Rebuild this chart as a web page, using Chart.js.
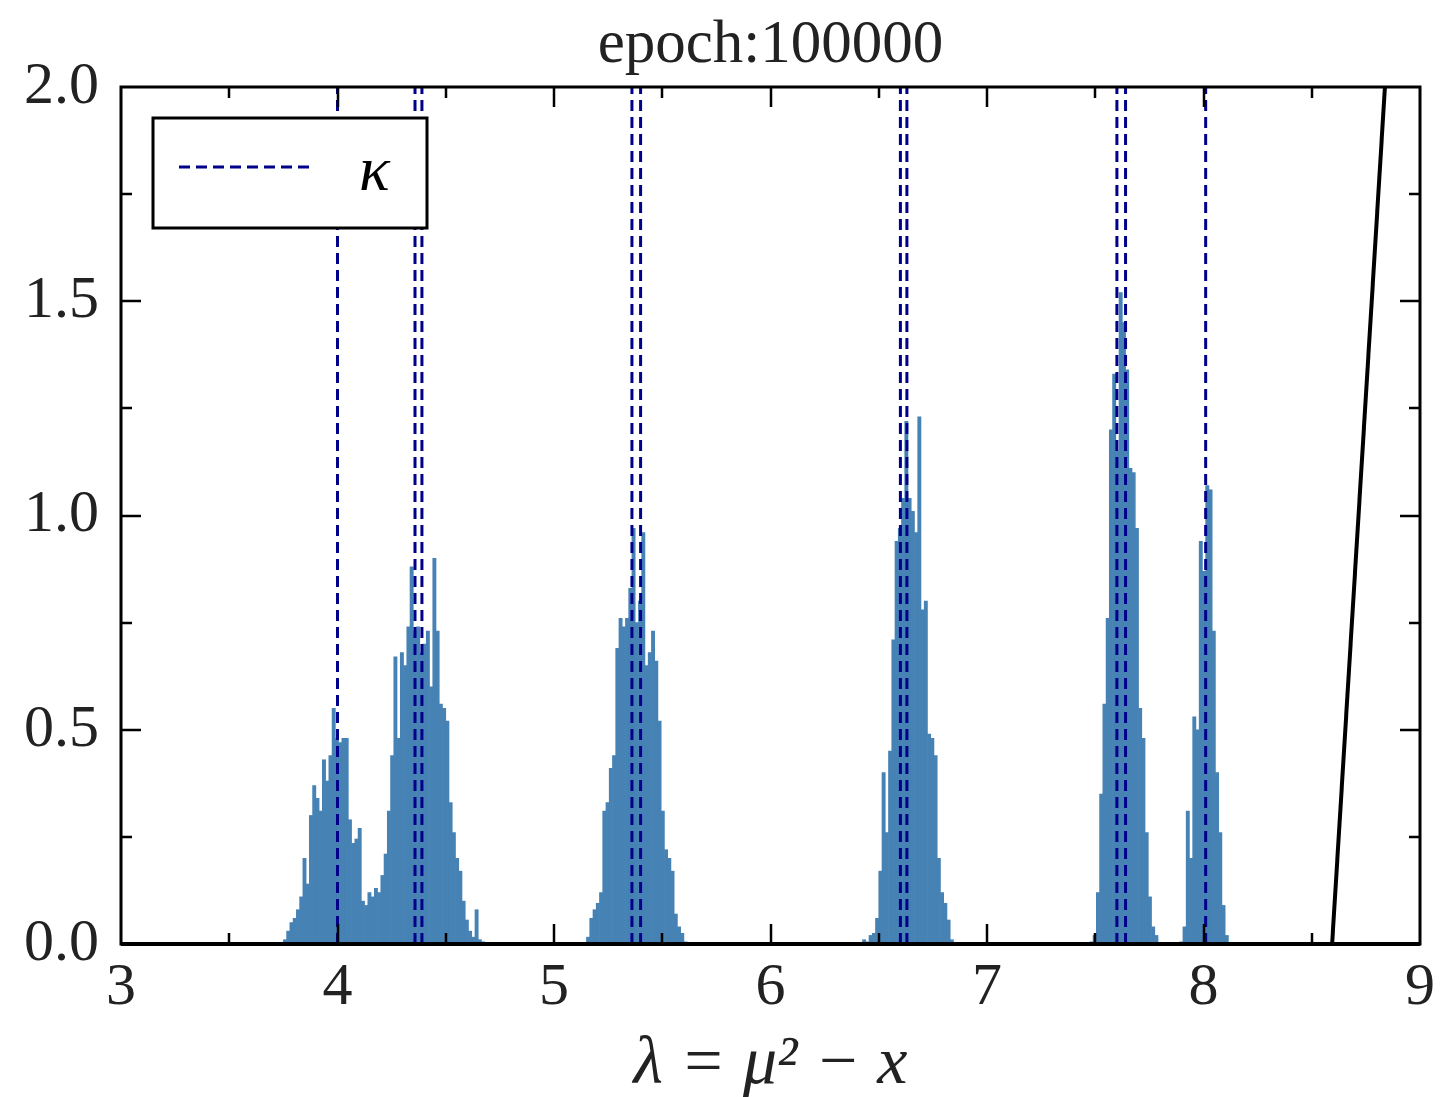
<!DOCTYPE html>
<html>
<head>
<meta charset="utf-8">
<title>epoch:100000</title>
<script src="https://cdn.jsdelivr.net/npm/chart.js@4.4.1/dist/chart.umd.min.js"></script>
<style>
    html, body { margin: 0; padding: 0; background: #fff; }
    #wrap { width: 1449px; height: 1097px; }
</style>
</head>
<body>
<div id="wrap"><canvas id="chart" width="1449" height="1097"></canvas></div>
<script>
/**
 * Eigenvalue histogram at epoch 100000, with kappa markers (dashed)
 * and the black reference line on the right.
 */

// histogram bin width and left edge of each cluster of bins
var BIN_WIDTH = 0.015;
var CLUSTER_STARTS = [3.75, 5.15, 6.425, 7.475, 7.89];

// bin heights, one array per cluster
var cluster1 = [0.01, 0.03, 0.05, 0.06, 0.08, 0.11, 0.20, 0.14, 0.30, 0.37,
    0.34, 0.31, 0.43, 0.38, 0.44, 0.55, 0.48, 0.47, 0.48, 0.48,
    0.29, 0.235, 0.245, 0.27, 0.10, 0.09, 0.12, 0.11, 0.13, 0.12,
    0.16, 0.21, 0.31, 0.44, 0.67, 0.48, 0.68, 0.65, 0.74, 0.88,
    0.73, 0.74, 0.68, 0.70, 0.73, 0.60, 0.90, 0.73, 0.56, 0.55,
    0.52, 0.33, 0.26, 0.20, 0.17, 0.10, 0.056, 0.03, 0.016, 0.08,
    0.01, 0.005];
var cluster2 = [0.016, 0.06, 0.08, 0.095, 0.12, 0.31, 0.33, 0.41, 0.44, 0.69,
    0.76, 0.74, 0.76, 0.83, 0.97, 0.75, 0.80, 0.96, 0.65, 0.68,
    0.73, 0.66, 0.52, 0.31, 0.22, 0.20, 0.17, 0.07, 0.04, 0.025,
    0.005];
var cluster3 = [0.01, 0.005, 0.02, 0.025, 0.06, 0.17, 0.40, 0.26, 0.45, 0.71,
    0.94, 0.97, 1.04, 1.22, 1.04, 1.01, 0.96, 1.23, 0.78, 0.80,
    0.49, 0.48, 0.44, 0.20, 0.12, 0.095, 0.056, 0.01];
var cluster4 = [0.005, 0.02, 0.12, 0.35, 0.56, 0.76, 1.20, 1.33, 1.15, 1.52,
    1.45, 1.34, 1.11, 1.10, 0.97, 0.55, 0.48, 0.26, 0.11, 0.04,
    0.02];
var cluster5 = [0.005, 0.04, 0.31, 0.20, 0.53, 0.50, 0.94, 0.87, 1.07, 1.06,
    0.73, 0.40, 0.26, 0.09, 0.02];

// kappa positions (dashed verticals)
var KAPPA = [4.0, 4.358, 4.39, 5.36, 5.40, 6.60, 6.63, 7.60, 7.64, 8.01];

// black line end points
var LINE_X = [8.594, 8.838];
var LINE_Y = [0, 2.0];

// axes
var X_MIN = 3, X_MAX = 9, X_STEP = 1, X_MINOR = 0.5;
var Y_MIN = 0, Y_MAX = 2.0, Y_STEP = 0.5, Y_MINOR = 0.25;

var TITLE = 'epoch:100000';
var X_LABEL = 'λ = μ² − x';

(function () {
    'use strict';

    var SERIF = '"Liberation Serif", "DejaVu Serif", serif';
    var BAR_COLOR = '#4682b4';
    var KAPPA_COLOR = '#00008b';
    var TEXT = '#222';

    function buildBins() {
        var clusters = [cluster1, cluster2, cluster3, cluster4, cluster5];
        var pts = [];
        for (var c = 0; c < clusters.length; c++) {
            for (var i = 0; i < clusters[c].length; i++) {
                pts.push({ x: CLUSTER_STARTS[c] + (i + 0.5) * BIN_WIDTH, y: clusters[c][i] });
            }
        }
        return pts;
    }

    var datasets = [];
    for (var k = 0; k < KAPPA.length; k++) {
        datasets.push({
            type: 'line',
            label: k === 0 ? 'κ' : '',
            data: [{ x: KAPPA[k], y: Y_MIN }, { x: KAPPA[k], y: Y_MAX }],
            borderColor: KAPPA_COLOR,
            borderWidth: 3,
            borderDash: [11, 6],
            pointRadius: 0,
            fill: false,
            order: 0
        });
    }
    datasets.push({
        type: 'line',
        label: 'line',
        data: [{ x: LINE_X[0], y: LINE_Y[0] }, { x: LINE_X[1], y: LINE_Y[1] }],
        borderColor: '#000',
        borderWidth: 4,
        pointRadius: 0,
        fill: false,
        order: 0
    });
    datasets.push({
        type: 'bar',
        label: 'hist',
        data: buildBins(),
        backgroundColor: BAR_COLOR,
        borderWidth: 0,
        barPercentage: 1,
        categoryPercentage: 1,
        order: 1
    });

    // frame with inward ticks on all four sides, title, legend box
    var framePlugin = {
        id: 'frame',
        afterDatasetsDraw: function (chart) {
            var ctx = chart.ctx;
            var a = chart.chartArea;
            var xs = chart.scales.x;
            var ys = chart.scales.y;
            var v, px, len;
            ctx.save();
            ctx.strokeStyle = '#000';
            ctx.lineWidth = 3;
            ctx.strokeRect(a.left, a.top, a.right - a.left, a.bottom - a.top);
            ctx.lineWidth = 4;
            ctx.beginPath();
            ctx.moveTo(a.left, a.bottom);
            ctx.lineTo(a.right, a.bottom);
            ctx.stroke();

            ctx.lineWidth = 2.5;
            ctx.beginPath();
            for (v = X_MIN + X_MINOR; v < X_MAX - 1e-9; v += X_MINOR) {
                px = Math.round(xs.getPixelForValue(v));
                len = Math.abs(v - Math.round(v)) < 1e-9 ? 20 : 11;
                ctx.moveTo(px, a.bottom);
                ctx.lineTo(px, a.bottom - len);
                ctx.moveTo(px, a.top);
                ctx.lineTo(px, a.top + len);
            }
            for (v = Y_MIN + Y_MINOR; v < Y_MAX - 1e-9; v += Y_MINOR) {
                px = Math.round(ys.getPixelForValue(v));
                len = Math.abs(v / Y_STEP - Math.round(v / Y_STEP)) < 1e-9 ? 20 : 11;
                ctx.moveTo(a.left, px);
                ctx.lineTo(a.left + len, px);
                ctx.moveTo(a.right, px);
                ctx.lineTo(a.right - len, px);
            }
            ctx.stroke();
            ctx.restore();
        },
        afterDraw: function (chart) {
            var ctx = chart.ctx;
            var a = chart.chartArea;
            ctx.save();

            // title over the plot area
            ctx.fillStyle = TEXT;
            ctx.font = '61px ' + SERIF;
            ctx.textAlign = 'center';
            ctx.textBaseline = 'alphabetic';
            ctx.fillText(TITLE, (a.left + a.right) / 2, 62);

            // legend box, upper left
            var bx = a.left + 32, by = a.top + 31, bw = 274, bh = 110;
            ctx.fillStyle = '#fff';
            ctx.fillRect(bx, by, bw, bh);
            ctx.strokeStyle = '#000';
            ctx.lineWidth = 3;
            ctx.strokeRect(bx, by, bw, bh);
            ctx.strokeStyle = KAPPA_COLOR;
            ctx.lineWidth = 3;
            ctx.setLineDash([11, 6]);
            ctx.beginPath();
            ctx.moveTo(bx + 26, by + 49);
            ctx.lineTo(bx + 158, by + 49);
            ctx.stroke();
            ctx.setLineDash([]);
            ctx.fillStyle = '#000';
            ctx.font = 'italic 64px ' + SERIF;
            ctx.textAlign = 'left';
            ctx.fillText('κ', bx + 206, by + 72);
            ctx.restore();
        }
    };

    new Chart(document.getElementById('chart'), {
        type: 'bar',
        data: { datasets: datasets },
        plugins: [framePlugin],
        options: {
            responsive: false,
            animation: false,
            events: [],
            layout: { padding: { left: 0, right: 29, top: 87, bottom: 0 } },
            plugins: {
                legend: { display: false },
                tooltip: { enabled: false },
                title: { display: false }
            },
            scales: {
                x: {
                    type: 'linear',
                    min: X_MIN,
                    max: X_MAX,
                    offset: false,
                    grid: { display: false, drawTicks: false, offset: false },
                    border: { display: false },
                    ticks: {
                        stepSize: X_STEP,
                        color: TEXT,
                        padding: 8,
                        maxRotation: 0,
                        font: { family: SERIF, size: 60 },
                        callback: function (v) { return String(v); }
                    },
                    title: {
                        display: true,
                        text: X_LABEL,
                        color: TEXT,
                        font: { family: SERIF, size: 68, style: 'italic', lineHeight: 1.0 },
                        padding: { top: 0, bottom: -2 }
                    },
                    afterFit: function (s) { s.height = 153; }
                },
                y: {
                    min: Y_MIN,
                    max: Y_MAX,
                    grid: { display: false, drawTicks: false },
                    border: { display: false },
                    ticks: {
                        stepSize: Y_STEP,
                        color: TEXT,
                        padding: 22,
                        font: { family: SERIF, size: 60 },
                        callback: function (v) { return Number(v).toFixed(1); }
                    },
                    afterFit: function (s) { s.width = 121; }
                }
            }
        }
    });
})();
</script>
</body>
</html>
